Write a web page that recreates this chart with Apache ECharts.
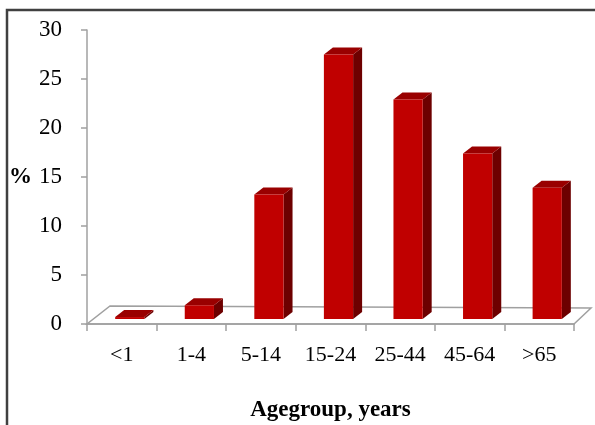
<!DOCTYPE html>
<html>
<head>
<meta charset="utf-8">
<script src="https://cdn.jsdelivr.net/npm/echarts@6/dist/echarts.min.js"></script>
<style>
  html, body { margin: 0; padding: 0; background: #ffffff; }
  #chart { width: 595px; height: 425px; }
</style>
</head>
<body>
<div id="chart"></div>
<script>
// Age groups and share of cases (%)
const categories = ['<1', '1-4', '5-14', '15-24', '25-44', '45-64', '>65'];
const percentValues = [0.2, 1.4, 12.7, 27.0, 22.4, 16.9, 13.4];
const yMin = 0;
const yMax = 30;
const yStep = 5;

const serif = '"Liberation Serif", "Times New Roman", serif';
const axisGrey = '#a0a0a0';

// Colours of the three visible faces of each column
const faceFront = '#c00000';
const faceTop = '#990000';
const faceSide = '#6d0000';

// Column drawn as a pseudo-3D box standing on the floor
function renderColumn(params, api) {
  const idx = api.value(0);
  const v = api.value(1);
  const base = api.coord([idx, 0]);
  const top = api.coord([idx, v]);
  const band = api.size([1, 0])[0];
  const w = band * 0.42;
  const shiftX = band * 0.115;
  const shiftY = -5;
  const dx = 9, dy = -7;
  const x0 = base[0] + shiftX - w / 2;
  const x1 = x0 + w;
  const yb = base[1] + shiftY;
  const yt = top[1] + shiftY;
  return {
    type: 'group',
    children: [
      { type: 'polygon', shape: { points: [[x1, yb], [x1, yt], [x1 + dx, yt + dy], [x1 + dx, yb + dy]] },
        style: { fill: faceSide } },
      { type: 'polygon', shape: { points: [[x0, yt], [x1, yt], [x1 + dx, yt + dy], [x0 + dx, yt + dy]] },
        style: { fill: faceTop } },
      { type: 'rect', shape: { x: x0, y: yt, width: w, height: yb - yt },
        style: { fill: faceFront } }
    ]
  };
}

// Floor plane receding behind the category axis
function renderFloor(params, api) {
  const first = api.coord([0, 0]);
  const last = api.coord([categories.length - 1, 0]);
  const band = api.size([1, 0])[0];
  const xl = first[0] - band / 2;
  const xr = last[0] + band / 2;
  const y = first[1];
  const pts = [[xl, y], [xr, y], [xr + 17, y - 16], [xl + 23, y - 18]];
  return {
    type: 'polygon',
    shape: { points: pts },
    style: { fill: '#ffffff', stroke: axisGrey, lineWidth: 1.5 }
  };
}

const chart = echarts.init(document.getElementById('chart'), null, { renderer: 'canvas' });

chart.setOption({
  animation: false,
  backgroundColor: '#ffffff',
  graphic: [
    {
      type: 'rect',
      shape: { x: 7, y: 10, width: 620, height: 440 },
      style: { fill: 'none', stroke: '#404040', lineWidth: 2.5 },
      z: 100
    }
  ],
  grid: { left: 87, right: 21, top: 30, bottom: 101, outerBoundsMode: 'none', containLabel: false },
  xAxis: {
    type: 'category',
    data: categories,
    name: 'Agegroup, years',
    nameLocation: 'middle',
    nameGap: 75,
    nameTextStyle: { fontFamily: serif, fontSize: 23, fontWeight: 'bold', color: '#000000' },
    axisLine: { lineStyle: { color: axisGrey, width: 1.5 } },
    axisTick: { show: true, length: 7, lineStyle: { color: axisGrey, width: 1.5 } },
    axisLabel: { interval: 0, hideOverlap: false, fontFamily: serif, fontSize: 22, color: '#000000', margin: 20 },
    z: 1
  },
  yAxis: {
    type: 'value',
    min: yMin,
    max: yMax,
    interval: yStep,
    name: '%',
    nameLocation: 'middle',
    nameRotate: 0,
    nameGap: 55,
    nameTextStyle: { fontFamily: serif, fontSize: 23, fontWeight: 'bold', color: '#000000' },
    axisLine: { show: true, lineStyle: { color: axisGrey, width: 1.5 } },
    axisTick: { show: true, length: 6, lineStyle: { color: axisGrey, width: 1.5 } },
    axisLabel: { fontFamily: serif, fontSize: 23, color: '#000000', margin: 25 },
    splitLine: { show: false }
  },
  series: [
    {
      type: 'custom',
      renderItem: renderFloor,
      data: [[0, 0]],
      z: 0,
      silent: true
    },
    {
      type: 'custom',
      renderItem: renderColumn,
      data: categories.map((c, i) => [i, percentValues[i]]),
      encode: { x: 0, y: 1 },
      z: 5
    }
  ]
});
</script>
</body>
</html>
